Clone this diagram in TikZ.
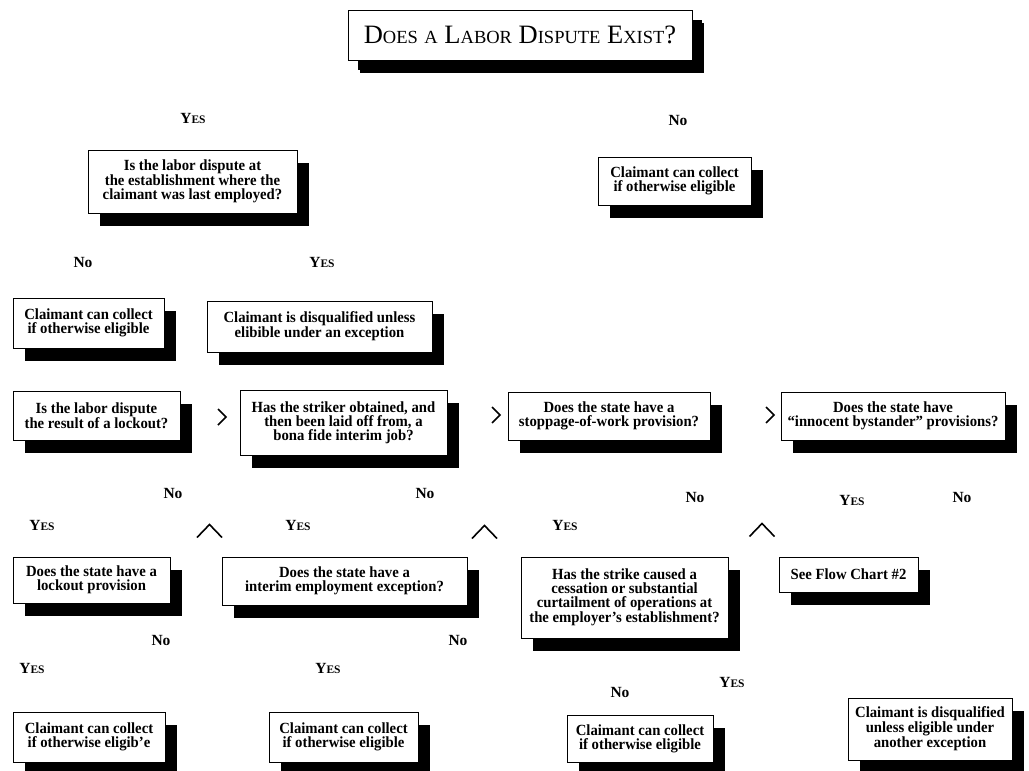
\documentclass[tikz,border=0pt]{standalone}
\usepackage{fontspec}
\setmainfont{Liberation Serif}
\newfontfamily\boxfont{Liberation Serif}[FakeStretch=0.95,Ligatures=TeX]
\usetikzlibrary{shadows}
\newcommand{\Yes}{Y{\fontsize{11.5}{11.5}\selectfont ES}}
\newcommand{\tsm}[1]{{\fontsize{18.5}{18.5}\selectfont #1}}
\tikzset{
  box/.style={draw=black, line width=0.8pt, fill=white, align=center,
    font=\boxfont\fontsize{15.5}{13.8}\selectfont\bfseries, inner sep=2pt,
    drop shadow={shadow xshift=12pt, shadow yshift=-13pt, fill=black, opacity=1}},
  lab/.style={font=\fontsize{15.5}{15.5}\selectfont\bfseries, inner sep=0pt},
  chev/.style={line width=1.6pt, line cap=butt, line join=miter}
}
\begin{document}
\begin{tikzpicture}[x=1pt,y=-1pt]
\useasboundingbox[fill=white] (0,0) rectangle (1029,771);
% title
\node[box, font=\fontsize{26.5}{26.5}\selectfont, minimum width=344pt, minimum height=50pt,
  drop shadow={shadow xshift=10pt, shadow yshift=-10pt, fill=black, opacity=1}] (title) at (520,35)
  {D\tsm{OES} \tsm{A} L\tsm{ABOR} D\tsm{ISPUTE} E\tsm{XIST}?};
% labels top
\node[lab] (ly0) at (193,118) {\Yes};
\node[lab] (ln0) at (678,120) {No};
\node[box, minimum width=209pt, minimum height=63pt] (q1) at (192.5,181.5)
  {Is the labor dispute at\\the establishment where the\\claimant was last employed?};
\node[box, minimum width=153pt, minimum height=48pt] (c0) at (674.5,181)
  {Claimant can collect\\if otherwise eligible};
\node[lab] (ln1) at (83,262) {No};
\node[lab] (ly1) at (322,262) {\Yes};
\node[box, minimum width=151pt, minimum height=50pt] (c1) at (88.5,323)
  {Claimant can collect\\if otherwise eligible};
\node[box, minimum width=225pt, minimum height=51pt] (d1) at (319.5,326.5)
  {Claimant is disqualified unless\\elibible under an exception};
% row 3
\node[box, minimum width=167pt, minimum height=49pt] (q2) at (96.5,415.5)
  {Is the labor dispute\\the result of a lockout?};
\node[box, minimum width=207pt, minimum height=65pt] (q3) at (343.5,422.5)
  {Has the striker obtained, and\\then been laid off from, a\\bona fide interim job?};
\node[box, minimum width=202pt, minimum height=48pt] (q4) at (609,416)
  {Does the state have a\\stoppage-of-work provision?};
\node[box, minimum width=224pt, minimum height=48pt] (q5) at (893,416)
  {Does the state have\\``innocent bystander'' provisions?};
\coordinate (g1) at (222,417);
\coordinate (g2) at (496,415);
\coordinate (g3) at (770,415);
\foreach \g in {g1,g2,g3}
  \draw[chev] (\g) ++(-4,-8) -- ++(8,8) -- ++(-8,8);
% row 3 labels
\node[lab] (ln2) at (173,493) {No};
\node[lab] (ln3) at (425,493) {No};
\node[lab] (ln4) at (695,497) {No};
\node[lab] (ly5) at (852,500) {\Yes};
\node[lab] (ln5) at (962,497) {No};
\node[lab] (ly2) at (42,525) {\Yes};
\node[lab] (ly3) at (298,525) {\Yes};
\node[lab] (ly4) at (565,525) {\Yes};
\coordinate (h1) at (209.5,531);
\coordinate (h2) at (484.5,532);
\coordinate (h3) at (762,530);
\foreach \h in {h1,h2,h3}
  \draw[chev] (\h) ++(-12.5,6.5) -- ++(12.5,-13) -- ++(12.5,13);
% row 4
\node[box, minimum width=157pt, minimum height=46pt] (q6) at (91.5,580)
  {Does the state have a\\lockout provision};
\node[box, minimum width=245pt, minimum height=48pt] (q7) at (344.5,581)
  {Does the state have a\\interim employment exception?};
\node[box, minimum width=207pt, minimum height=81pt] (q8) at (624.5,597.5)
  {Has the strike caused a\\cessation or substantial\\curtailment of operations at\\the employer's establishment?};
\node[box, minimum width=139pt, minimum height=35pt] (s2) at (848.5,574.5)
  {See Flow Chart \#2};
% row 4 labels
\node[lab] (ln6) at (161,640) {No};
\node[lab] (ln7) at (458,640) {No};
\node[lab] (ly6) at (32,668) {\Yes};
\node[lab] (ly7) at (328,668) {\Yes};
\node[lab] (ly8) at (732,682) {\Yes};
\node[lab] (ln8) at (620,692) {No};
% bottom row
\node[box, minimum width=152pt, minimum height=50pt] (c2) at (89,737)
  {Claimant can collect\\if otherwise eligib'e};
\node[box, minimum width=149pt, minimum height=50pt] (c3) at (343.5,737)
  {Claimant can collect\\if otherwise eligible};
\node[box, minimum width=146pt, minimum height=47pt] (c4) at (640,738.5)
  {Claimant can collect\\if otherwise eligible};
\node[box, minimum width=164pt, minimum height=62pt] (d2) at (930,729)
  {Claimant is disqualified\\unless eligible under\\another exception};
\end{tikzpicture}
\end{document}
